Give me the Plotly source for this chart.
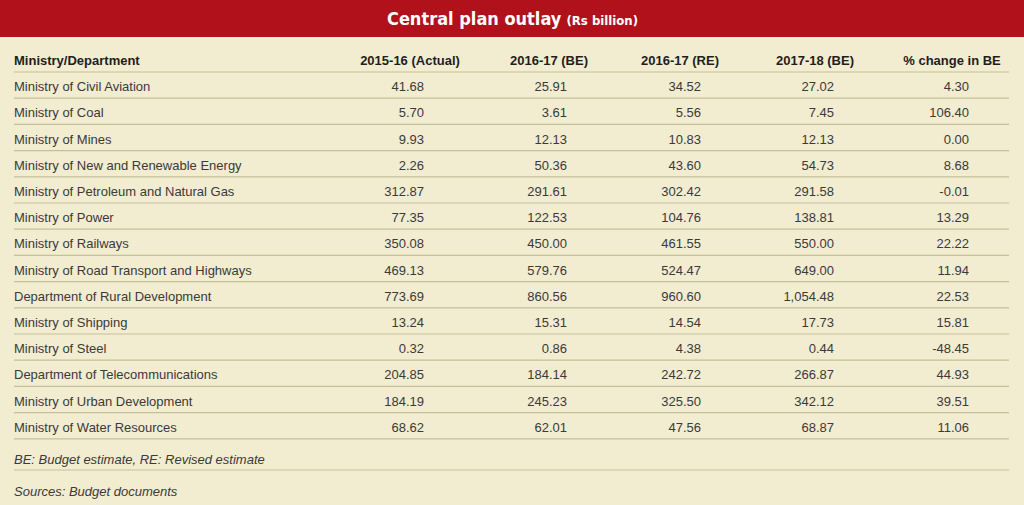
import plotly.graph_objects as go

# ============================================================
# DATA
# ============================================================

ministries = [
    "Ministry of Civil Aviation",
    "Ministry of Coal",
    "Ministry of Mines",
    "Ministry of New and Renewable Energy",
    "Ministry of Petroleum and Natural Gas",
    "Ministry of Power",
    "Ministry of Railways",
    "Ministry of Road Transport and Highways",
    "Department of Rural Development",
    "Ministry of Shipping",
    "Ministry of Steel",
    "Department of Telecommunications",
    "Ministry of Urban Development",
    "Ministry of Water Resources",
]

actual_2015_16 = ["41.68", "5.70", "9.93", "2.26", "312.87", "77.35", "350.08",
                  "469.13", "773.69", "13.24", "0.32", "204.85", "184.19", "68.62"]
be_2016_17 = ["25.91", "3.61", "12.13", "50.36", "291.61", "122.53", "450.00",
              "579.76", "860.56", "15.31", "0.86", "184.14", "245.23", "62.01"]
re_2016_17 = ["34.52", "5.56", "10.83", "43.60", "302.42", "104.76", "461.55",
              "524.47", "960.60", "14.54", "4.38", "242.72", "325.50", "47.56"]
be_2017_18 = ["27.02", "7.45", "12.13", "54.73", "291.58", "138.81", "550.00",
              "649.00", "1,054.48", "17.73", "0.44", "266.87", "342.12", "68.87"]
pct_change_be = ["4.30", "106.40", "0.00", "8.68", "-0.01", "13.29", "22.22",
                 "11.94", "22.53", "15.81", "-48.45", "44.93", "39.51", "11.06"]

headers = ["Ministry/Department", "2015-16 (Actual)", "2016-17 (BE)",
           "2016-17 (RE)", "2017-18 (BE)", "% change in BE"]
notes = ["BE: Budget estimate, RE: Revised estimate", "Sources: Budget documents"]

title = "Central plan outlay"
subtitle = "(Rs billion)"

# ============================================================
# LAYOUT CONSTANTS (pixel coordinates)
# ============================================================

W, H = 1024, 505
BG = "#f2ecd0"
RED = "#b0111b"
LINE = "#c6bf9c"
TEXT = "#3a3a3a"
FONT = "Liberation Sans, Arial, sans-serif"

left_x = 14
right_x = 1009
num_right = [424, 567, 701, 834, 969]
head_center = [410, 549, 680, 815, 952]
first_line = 72
row_h = 26.2
header_y = 61.5
n = len(ministries)

row_y = [first_line + row_h * i + 16 for i in range(n)]
line_y = [first_line + row_h * k for k in range(n + 1)] + [470]
note_y = [460.5, 492.5]

fig = go.Figure()

# row separators
lx, ly = [], []
for y in line_y:
    lx += [left_x, right_x, None]
    ly += [y, y, None]
fig.add_trace(go.Scatter(x=lx, y=ly, mode="lines",
                         line=dict(color=LINE, width=1.2), hoverinfo="skip"))

# header row
fig.add_trace(go.Scatter(
    x=[left_x], y=[header_y], text=["<b>" + headers[0] + "</b>"], mode="text",
    textposition="middle right", textfont=dict(family=FONT, size=13, color="#1e1e1e"),
    hoverinfo="skip"))
fig.add_trace(go.Scatter(
    x=head_center, y=[header_y] * 5, text=["<b>" + h + "</b>" for h in headers[1:]],
    mode="text", textposition="middle center",
    textfont=dict(family=FONT, size=13, color="#1e1e1e"), hoverinfo="skip"))

# ministry names
fig.add_trace(go.Scatter(
    x=[left_x] * n, y=row_y, text=ministries, mode="text",
    textposition="middle right", textfont=dict(family=FONT, size=13, color=TEXT),
    hoverinfo="skip"))

# value columns
for col, xr in zip([actual_2015_16, be_2016_17, re_2016_17, be_2017_18, pct_change_be],
                   num_right):
    fig.add_trace(go.Scatter(
        x=[xr] * n, y=row_y, text=col, mode="text",
        textposition="middle left", textfont=dict(family=FONT, size=13, color=TEXT),
        hoverinfo="skip"))

# notes
fig.add_trace(go.Scatter(
    x=[left_x] * 2, y=note_y, text=["<i>" + t + "</i>" for t in notes], mode="text",
    textposition="middle right", textfont=dict(family=FONT, size=13, color=TEXT),
    hoverinfo="skip"))

fig.update_layout(
    width=W, height=H,
    margin=dict(l=0, r=0, t=0, b=0),
    paper_bgcolor=BG, plot_bgcolor=BG,
    showlegend=False,
    xaxis=dict(range=[0, W], visible=False, fixedrange=True),
    yaxis=dict(range=[H, 0], visible=False, fixedrange=True),
    shapes=[dict(type="rect", xref="paper", yref="y", x0=0, x1=1, y0=0, y1=37,
                 fillcolor=RED, line=dict(width=0), layer="below")],
    annotations=[dict(
        x=W / 2, y=18, xref="x", yref="y", showarrow=False,
        text="<b>" + title + "</b> <span style='font-size:13px'><b>" + subtitle + "</b></span>",
        font=dict(family="DejaVu Sans Condensed, sans-serif", size=18, color="white"))],
)

# drop the browser's default body margin so the figure fills the window
fig.write_html("out.html", config={"displayModeBar": False},
               post_script="document.body.style.margin='0px';"
                           "document.body.style.overflow='hidden';")
